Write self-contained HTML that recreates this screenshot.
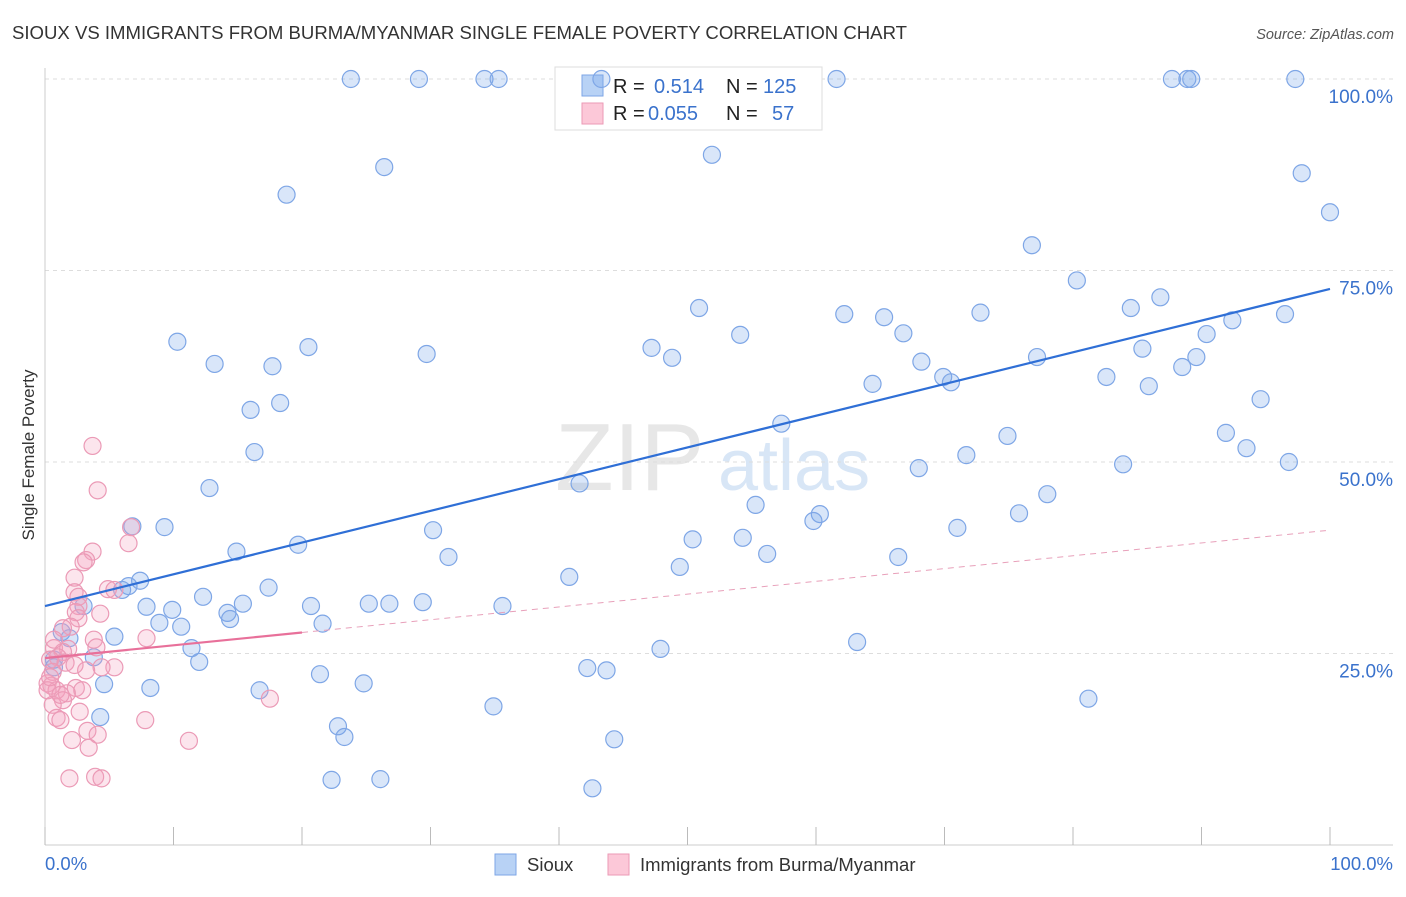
<!DOCTYPE html>
<html><head><meta charset="utf-8">
<style>
body{margin:0;background:#fff;font-family:"Liberation Sans",sans-serif;}
svg text{font-family:"Liberation Sans",sans-serif;}
</style></head>
<body>
<svg id="chart" width="1406" height="892" xmlns="http://www.w3.org/2000/svg">
<text x="12" y="39" font-size="18.5" fill="#333" textLength="895" lengthAdjust="spacingAndGlyphs">SIOUX VS IMMIGRANTS FROM BURMA/MYANMAR SINGLE FEMALE POVERTY CORRELATION CHART</text>
<text x="1394" y="39" font-size="14.5" fill="#555" font-style="italic" text-anchor="end">Source: ZipAtlas.com</text>
<g>
<text x="555" y="490" font-size="96" fill="#ddd" font-family="Liberation Serif" opacity="0.7">ZIP</text>
<text x="718" y="490" font-size="72" fill="#cfe0f5" opacity="0.8">atlas</text>
</g>
<g id="grid"></g>
<g id="axes"></g>
<g>
<rect x="555" y="67" width="267" height="63" fill="#fff" stroke="#ddd"/>
<rect x="582" y="75" width="21" height="21" fill="#b8d2f5" stroke="#7ea6e6"/>
<rect x="582" y="103" width="21" height="21" fill="#fcc8d8" stroke="#eb9ab6"/>
<text x="613" y="93" font-size="20" fill="#222">R = </text><text x="654" y="93" font-size="20" fill="#3a72cc">0.514</text>
<text x="726" y="93" font-size="20" fill="#222">N = </text><text x="763" y="93" font-size="20" fill="#3a72cc">125</text>
<text x="613" y="120" font-size="20" fill="#222">R = </text><text x="648" y="120" font-size="20" fill="#3a72cc">0.055</text>
<text x="726" y="120" font-size="20" fill="#222">N = </text><text x="772" y="120" font-size="20" fill="#3a72cc">57</text>
</g>
<g id="pts"></g>
<g id="trends"></g>
<text transform="translate(34,455) rotate(-90)" font-size="17" fill="#333" text-anchor="middle">Single Female Poverty</text>
<g>
<rect x="495" y="854" width="21" height="21" fill="#b8d2f5" stroke="#7ea6e6"/>
<text x="527" y="871" font-size="18.5" fill="#333">Sioux</text>
<rect x="608" y="854" width="21" height="21" fill="#fcc8d8" stroke="#eb9ab6"/>
<text x="640" y="871" font-size="18.5" fill="#333">Immigrants from Burma/Myanmar</text>
</g>
</svg>
<script>
const yTicks=[25,50,75,100];
const yTickLabels=["25.0%","50.0%","75.0%","100.0%"];
const xTicks=[0,10,20,30,40,50,60,70,80,90,100];
const siouxX=[23.8,29.1,34.2,35.3,43.3,61.6,87.7,88.9,89.2,97.3,51.9,26.4,18.8,97.8,100,76.8,80.3,84.5,86.8,50.9,62.2,65.3,66.8,72.8,54.1,10.3,20.5,29.7,47.2,48.8,13.2,17.7,92.4,90.4,96.5,85.4,89.6,88.5,77.2,68.2,82.6,85.9,69.9,70.5,64.4,16.0,18.3,94.6,57.3,74.9,16.3,91.9,93.5,71.7,83.9,96.8,68.0,41.6,12.8,78.0,55.3,75.8,6.8,9.3,30.2,60.3,59.8,71.0,50.4,54.3,19.7,14.9,31.4,56.2,66.4,49.4,40.8,7.4,6.5,6.0,17.4,12.3,15.4,7.9,9.9,20.7,25.2,26.8,29.4,35.6,14.2,14.4,8.9,10.6,21.6,3.0,1.3,1.9,5.4,11.4,12.0,47.9,63.2,3.8,0.7,0.7,21.4,42.2,43.7,4.6,8.2,16.7,24.8,81.2,34.9,4.3,22.8,23.3,44.3,22.3,26.1,42.6];
const siouxY=[100,100,100,100,100,100,100,100,100,100,90.1,88.5,84.9,87.7,82.6,78.3,73.7,70.1,71.5,70.1,69.3,68.9,66.8,69.5,66.6,65.7,65.0,64.1,64.9,63.6,62.8,62.5,68.5,66.7,69.3,64.8,63.7,62.4,63.7,63.1,61.1,59.9,61.1,60.4,60.2,56.8,57.7,58.2,55.0,53.4,51.3,53.8,51.8,50.9,49.7,50.0,49.2,47.2,46.6,45.8,44.4,43.3,41.6,41.5,41.1,43.2,42.3,41.4,39.9,40.1,39.2,38.3,37.6,38.0,37.6,36.3,35.0,34.5,33.8,33.3,33.6,32.4,31.5,31.1,30.7,31.2,31.5,31.5,31.7,31.2,30.3,29.5,29.0,28.5,28.9,31.2,27.8,27.0,27.2,25.7,23.9,25.6,26.5,24.5,24.2,23.2,22.3,23.1,22.8,21.0,20.5,20.2,21.1,19.1,18.1,16.7,15.5,14.1,13.8,8.5,8.6,7.4];
const burmaX=[3.7,4.1,6.7,6.5,3.7,3.2,3.0,2.3,2.3,2.6,4.9,5.4,2.6,2.4,4.3,2.6,2.0,1.4,3.8,7.9,0.7,1.8,1.4,1.0,0.4,4.0,1.6,0.6,5.4,4.4,3.2,0.2,0.5,2.4,2.9,0.9,1.7,1.4,0.2,17.5,0.6,2.7,0.9,1.2,7.8,3.3,4.1,2.1,3.4,11.2,1.9,3.9,4.4,1.2,0.4,2.3,0.7];
const burmaY=[52.1,46.3,41.5,39.4,38.3,37.2,36.9,34.9,33.0,32.4,33.4,33.3,31.2,30.4,30.2,29.6,28.5,28.3,26.8,27.0,25.7,25.6,25.2,24.5,24.2,25.8,23.8,22.6,23.2,23.2,22.8,21.1,20.8,20.5,20.2,20.2,19.8,18.9,20.2,19.1,18.3,17.4,16.6,16.3,16.3,14.9,14.4,13.7,12.7,13.6,8.7,8.9,8.7,19.6,21.9,23.5,26.8];
const siouxTrend=[31.2,72.6];
const burmaTrend=[24.4,41.1];
const burmaSolidEnd=20;

const NS="http://www.w3.org/2000/svg";
const X=v=>45+v*12.85, Y=v=>845-v*7.66;
function mk(tag,attrs,parent){const e=document.createElementNS(NS,tag);for(const k in attrs)e.setAttribute(k,attrs[k]);parent.appendChild(e);return e;}
const grid=document.getElementById('grid'),axes=document.getElementById('axes'),pts=document.getElementById('pts'),tr=document.getElementById('trends');
yTicks.forEach((t,i)=>{
 const g=mk('line',{x1:45,x2:1393,y1:Y(t),y2:Y(t),stroke:'#ddd','stroke-dasharray':'4,4'},grid);
 
 
 const l=mk('text',{x:1393,y:Y(t)+24,'font-size':19,fill:'#3a72cc','text-anchor':'end'},axes);
 l.textContent=yTickLabels[i];
 
 
});
mk('line',{x1:45,x2:45,y1:68,y2:845,stroke:'#ccc'},axes);
mk('line',{x1:45,x2:1393,y1:845,y2:845,stroke:'#ccc'},axes);
xTicks.forEach(t=>{
 const k=mk('line',{x1:X(t),x2:X(t),y1:827,y2:845,stroke:'#bbb'},axes);
 
 
});
const x0=mk('text',{x:45,y:870,'font-size':18.5,fill:'#3a72cc'},axes);x0.textContent='0.0%';


const x1=mk('text',{x:1393,y:870,'font-size':18.5,fill:'#3a72cc','text-anchor':'end'},axes);x1.textContent='100.0%';


siouxX.forEach((v,i)=>{
 const c=mk('circle',{cx:X(v),cy:Y(siouxY[i]),r:8.5,fill:'rgba(120,165,235,0.28)',stroke:'#7ea6e6','stroke-width':1.2},pts);
 
 
});
burmaX.forEach((v,i)=>{
 const c=mk('circle',{cx:X(v),cy:Y(burmaY[i]),r:8.5,fill:'rgba(245,160,190,0.28)',stroke:'#eb9ab6','stroke-width':1.2},pts);
 
 
});
const bt=v=>burmaTrend[0]+(burmaTrend[1]-burmaTrend[0])*v/100;
const s1=mk('line',{x1:X(0),y1:Y(siouxTrend[0]),x2:X(100),y2:Y(siouxTrend[1]),stroke:'#2f6fd6','stroke-width':2.2},tr);


const b1=mk('line',{x1:X(0),y1:Y(bt(0)),x2:X(burmaSolidEnd),y2:Y(bt(burmaSolidEnd)),stroke:'#e8709a','stroke-width':2.2},tr);


const b2=mk('line',{x1:X(burmaSolidEnd),y1:Y(bt(burmaSolidEnd)),x2:X(100),y2:Y(bt(100)),stroke:'#e8a0ba','stroke-width':1,'stroke-dasharray':'6,5'},tr);


</script>
</body></html>
